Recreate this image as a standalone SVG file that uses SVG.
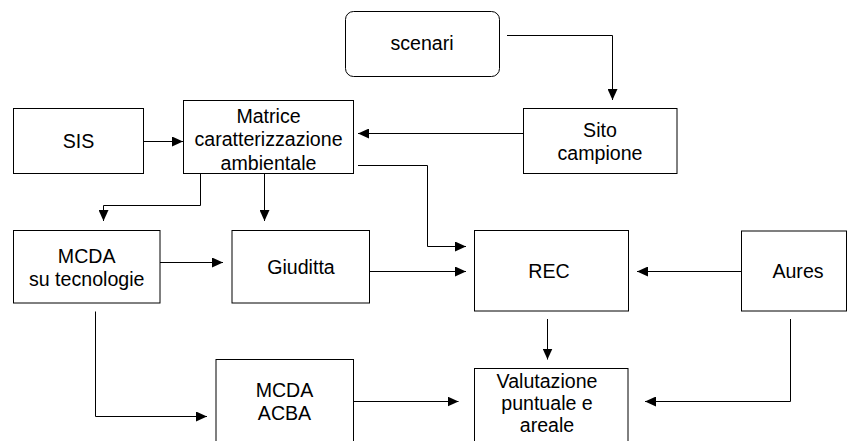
<svg xmlns="http://www.w3.org/2000/svg" width="848" height="441" viewBox="0 0 848 441">
<style>
.box{fill:#fff;stroke:#000;stroke-width:1}
.t{font-family:"Liberation Sans",Arial,sans-serif;font-size:19.6px;fill:#000;text-anchor:middle}
.c{fill:none;stroke:#000;stroke-width:1}
</style>
<defs>
<marker id="ah" markerUnits="userSpaceOnUse" markerWidth="12" markerHeight="10" refX="11" refY="5" orient="auto">
<path d="M0,0 L11,5 L0,10 Z" fill="#000"/>
</marker>
</defs>
<rect width="848" height="441" fill="#fff"/>
<g id="connectors">
<path class="c" marker-end="url(#ah)" d="M507,35.5 H612.5 V100"/>
<path class="c" marker-end="url(#ah)" d="M144,141.5 H183"/>
<path class="c" marker-end="url(#ah)" d="M523,133.5 H358"/>
<path class="c" marker-end="url(#ah)" d="M358,165.5 H427.5 V246.5 H466"/>
<path class="c" marker-end="url(#ah)" d="M200.5,174 V205.5 H103.5 V221"/>
<path class="c" marker-end="url(#ah)" d="M264.5,174 V221"/>
<path class="c" marker-end="url(#ah)" d="M160,262.5 H223"/>
<path class="c" marker-end="url(#ah)" d="M370,271.5 H466"/>
<path class="c" marker-end="url(#ah)" d="M741,271.5 H637"/>
<path class="c" marker-end="url(#ah)" d="M547.5,319 V359.5"/>
<path class="c" marker-end="url(#ah)" d="M790.5,319 V401.5 H645"/>
<path class="c" marker-end="url(#ah)" d="M95.5,311.5 V416.5 H207"/>
<path class="c" marker-end="url(#ah)" d="M354,401.5 H458.5"/>
</g>
<g id="scenari">
<rect class="box" x="345.5" y="11.5" width="154" height="65" rx="8"/>
<text class="t" x="422" y="50">scenari</text>
</g>
<g id="sis">
<rect class="box" x="13.5" y="108.5" width="130" height="65"/>
<text class="t" x="78.5" y="148">SIS</text>
</g>
<g id="matrice">
<rect class="box" x="183.5" y="100.5" width="170" height="73"/>
<text class="t" x="268.5" y="122.7">Matrice</text>
<text class="t" x="268.5" y="146.4">caratterizzazione</text>
<text class="t" x="268.5" y="170">ambientale</text>
</g>
<g id="sito">
<rect class="box" x="523.5" y="108.5" width="153.5" height="65"/>
<text class="t" x="600" y="136.7">Sito</text>
<text class="t" x="600" y="160">campione</text>
</g>
<g id="mcda-tecnologie">
<rect class="box" x="13.5" y="230.5" width="146.5" height="72.5"/>
<text class="t" x="86.7" y="262.7">MCDA</text>
<text class="t" x="86.7" y="285.5">su tecnologie</text>
</g>
<g id="giuditta">
<rect class="box" x="232" y="230.5" width="137.5" height="72.5"/>
<text class="t" x="301" y="273.5">Giuditta</text>
</g>
<g id="rec">
<rect class="box" x="474.5" y="230.5" width="154" height="80.5"/>
<text class="t" x="549" y="278">REC</text>
</g>
<g id="aures">
<rect class="box" x="741.5" y="231" width="105" height="80"/>
<text class="t" x="798" y="278">Aures</text>
</g>
<g id="mcda-acba">
<rect class="box" x="216" y="359.5" width="137.5" height="100"/>
<text class="t" x="284.5" y="396.7">MCDA</text>
<text class="t" x="284.5" y="420">ACBA</text>
</g>
<g id="valutazione">
<rect class="box" x="474.5" y="368.5" width="153.5" height="100"/>
<text class="t" x="547" y="388.3">Valutazione</text>
<text class="t" x="547" y="410">puntuale e</text>
<text class="t" x="547" y="431.7">areale</text>
</g>
</svg>
